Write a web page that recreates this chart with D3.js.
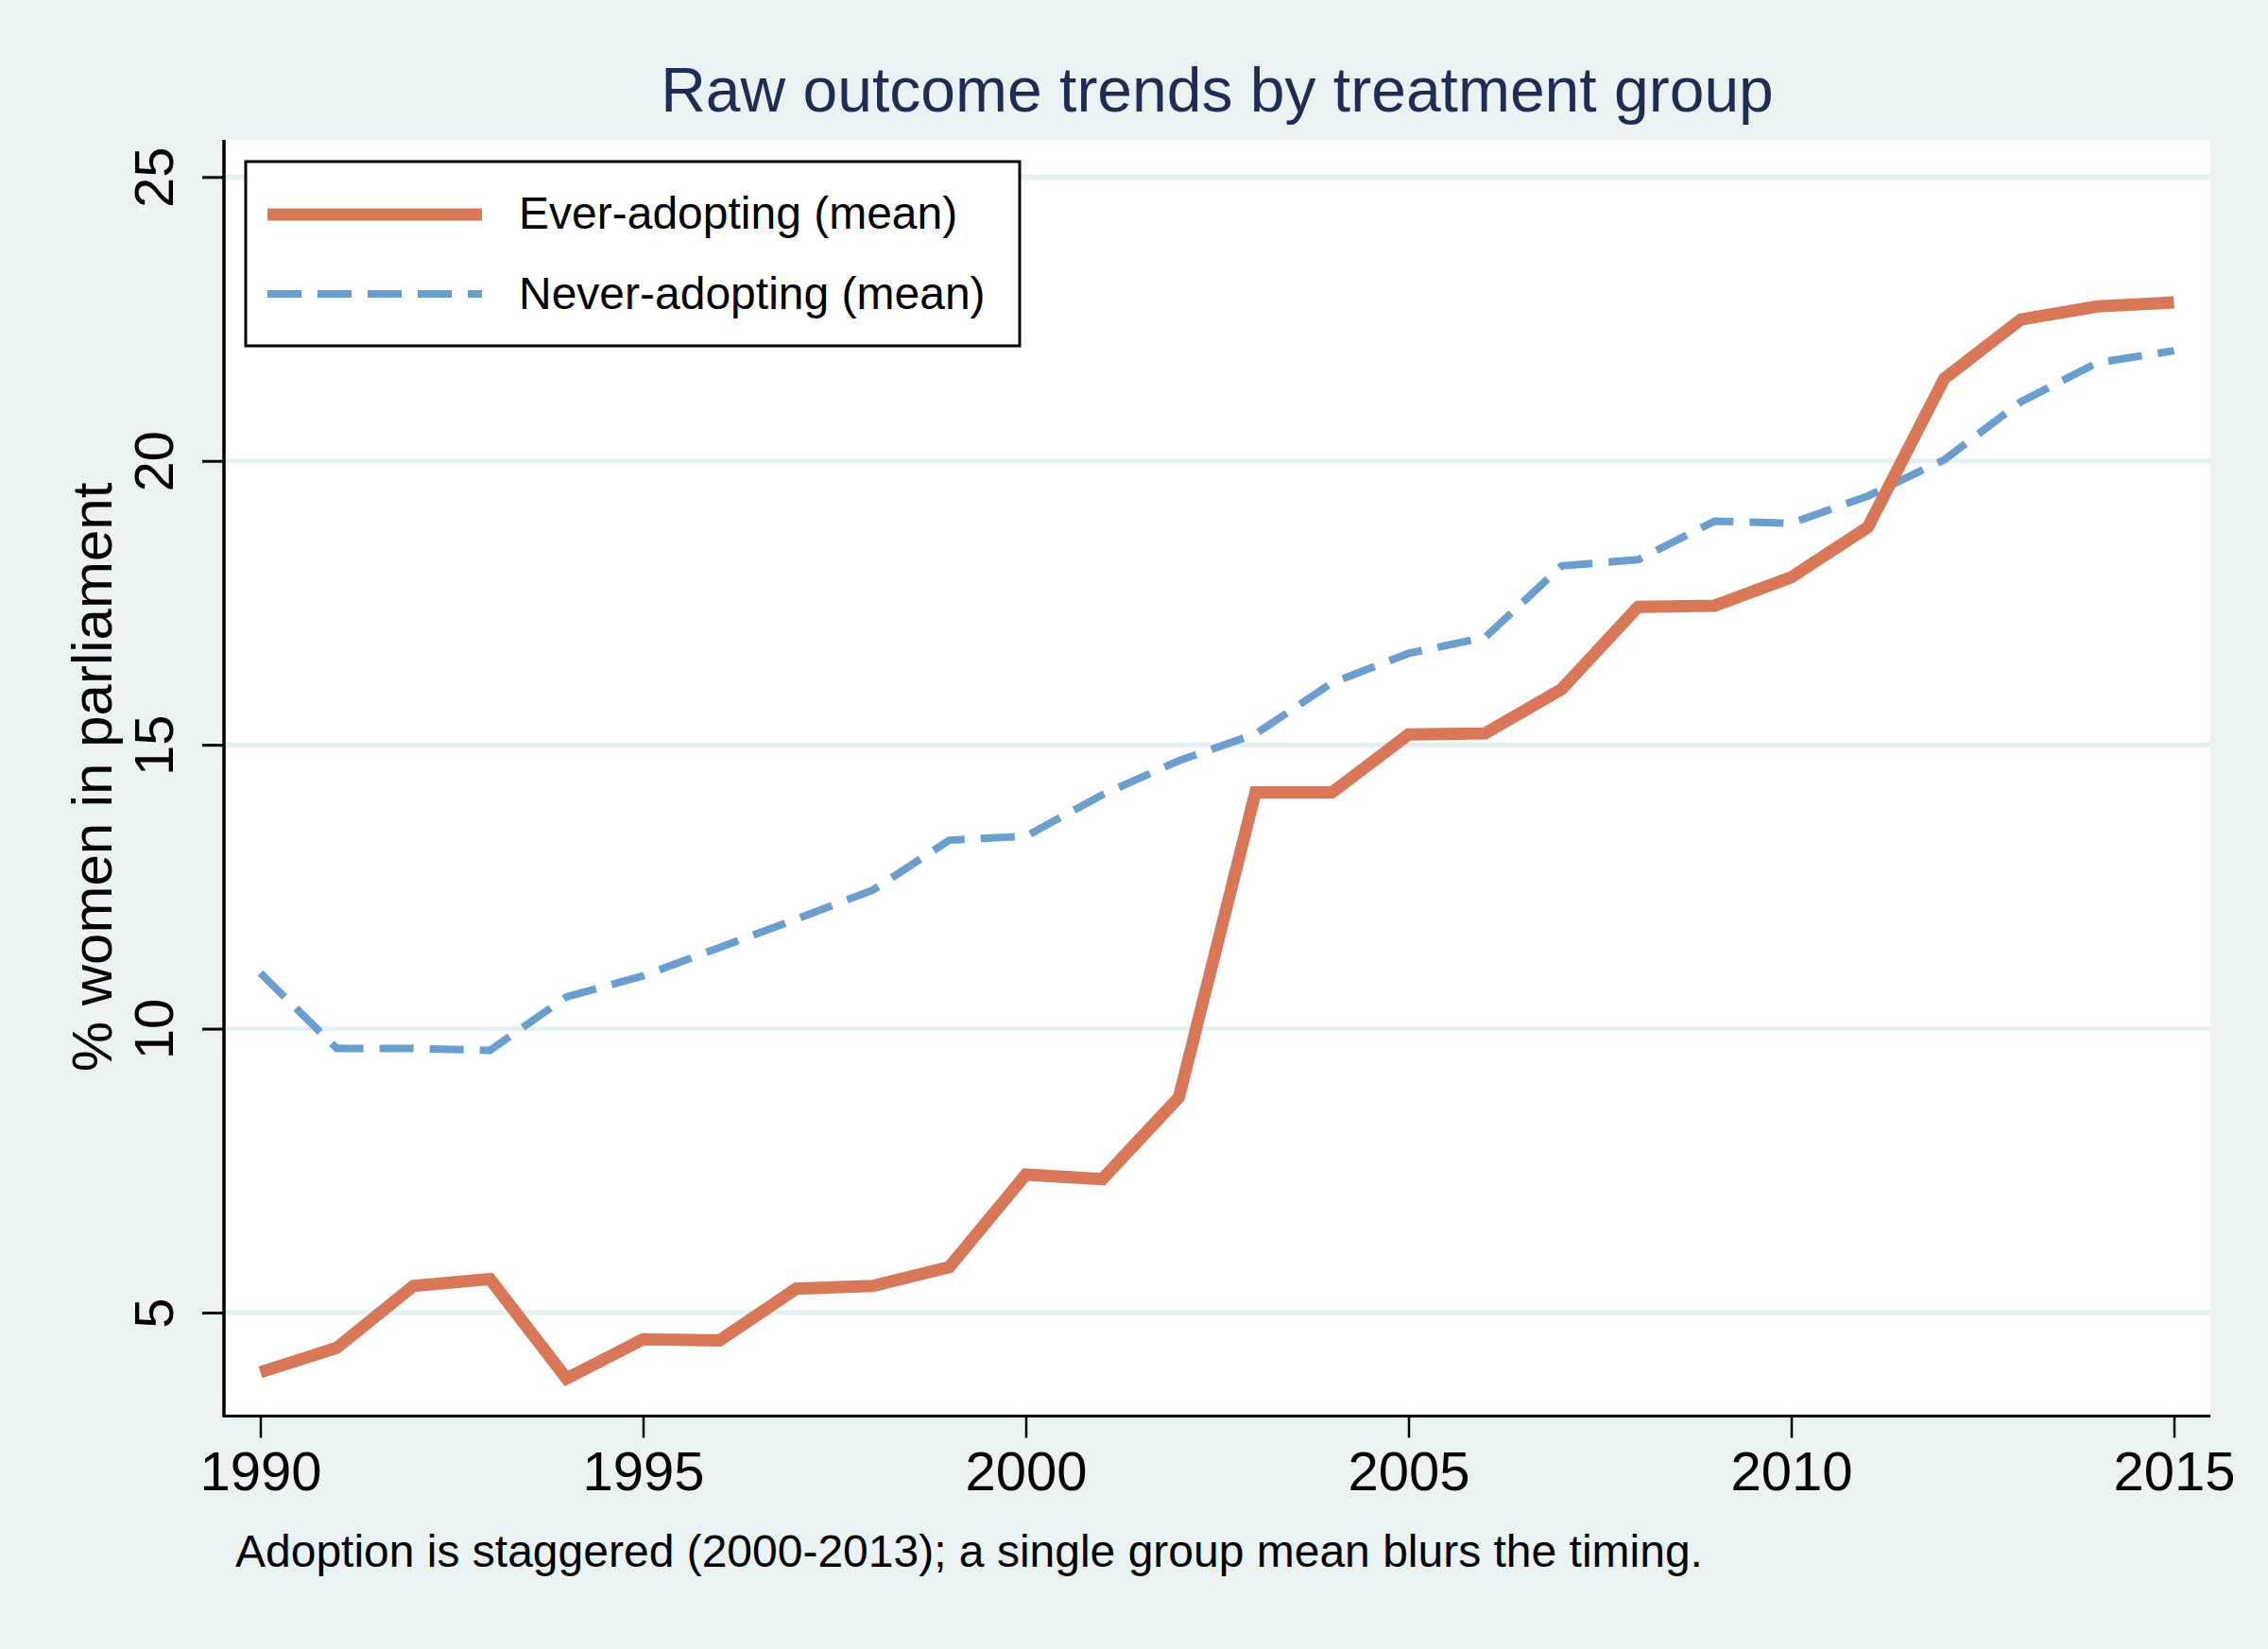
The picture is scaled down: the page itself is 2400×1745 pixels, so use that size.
<!DOCTYPE html>
<html>
<head>
<meta charset="utf-8">
<script src="https://cdn.jsdelivr.net/npm/d3@7"></script>
<style>
  html, body { margin: 0; padding: 0; background: #eaf2f3; }
  svg { display: block; font-family: "Liberation Sans", Arial, Helvetica, sans-serif; }
</style>
</head>
<body>
<svg id="chart" width="2400" height="1745"></svg>
<script>
// data
const years = d3.range(1990, 2016);
const everAdopting = [3.95, 4.38, 5.47, 5.59, 3.84, 4.53, 4.51, 5.42, 5.47, 5.80,
  7.43, 7.35, 8.79, 14.16, 14.16, 15.18, 15.20, 15.98, 17.43, 17.45,
  17.95, 18.83, 21.45, 22.49, 22.72, 22.79];
const neverAdopting = [10.98, 9.65, 9.65, 9.62, 10.56, 10.93, 11.43, 11.93, 12.44, 13.32,
  13.39, 14.12, 14.72, 15.19, 16.09, 16.61, 16.89, 18.15, 18.26, 18.94,
  18.90, 19.38, 20.02, 21.04, 21.73, 21.94];
const xTicks = [1990, 1995, 2000, 2005, 2010, 2015];
const yTicks = [5, 10, 15, 20, 25];
const seriesNames = ["Ever-adopting (mean)", "Never-adopting (mean)"];

const svg = d3.select("#chart");
const W = 2400, H = 1745;
const plot = {left: 237, right: 2339, top: 148, bottom: 1497};

const x = d3.scaleLinear().domain([1990, 2015]).range([275.5, 2300.5]);
const y = d3.scaleLinear().domain([5, 25]).range([1389, 187.3]);

svg.append("rect").attr("width", W).attr("height", H).attr("fill", "#eaf2f3");
svg.append("rect")
  .attr("x", plot.left).attr("y", plot.top)
  .attr("width", plot.right - plot.left).attr("height", plot.bottom - plot.top)
  .attr("fill", "#ffffff");

// grid
svg.append("g").selectAll("line").data(yTicks).join("line")
  .attr("x1", plot.left).attr("x2", plot.right)
  .attr("y1", d => y(d)).attr("y2", d => y(d))
  .attr("stroke", "#e6eff1").attr("stroke-width", 5);

// title
svg.append("text")
  .attr("x", 1288).attr("y", 118)
  .attr("text-anchor", "middle")
  .attr("font-size", 66).attr("fill", "#1f2d55")
  .text("Raw outcome trends by treatment group");

// lines
const line = d3.line().x((d, i) => x(years[i])).y(d => y(d));
svg.append("path").datum(neverAdopting)
  .attr("d", line).attr("fill", "none")
  .attr("stroke", "#6a9ecf").attr("stroke-width", 8)
  .attr("stroke-dasharray", "36,17");
svg.append("path").datum(everAdopting)
  .attr("d", line).attr("fill", "none")
  .attr("stroke", "#d97858").attr("stroke-width", 13)
  .attr("stroke-linejoin", "miter");

// axes
const yAxis = svg.append("g").attr("transform", `translate(${plot.left},0)`)
  .call(d3.axisLeft(y).tickValues(yTicks).tickSize(23).tickPadding(0).tickFormat(d3.format("d")));
yAxis.select(".domain").attr("d", `M0,${plot.top}V${plot.bottom + 1.5}`).attr("stroke", "#000").attr("stroke-width", 3.5);
yAxis.selectAll(".tick line").attr("stroke", "#000").attr("stroke-width", 3);
yAxis.selectAll(".tick text")
  .attr("x", null).attr("dy", null)
  .attr("transform", "translate(-54,0) rotate(-90)")
  .attr("text-anchor", "middle")
  .attr("font-size", 58).attr("fill", "#000");

const xAxis = svg.append("g").attr("transform", `translate(0,${plot.bottom + 1.5})`)
  .call(d3.axisBottom(x).tickValues(xTicks).tickSize(23).tickPadding(0).tickFormat(d3.format("d")));
xAxis.select(".domain").attr("d", `M${plot.left - 1.5},0H${plot.right}`).attr("stroke", "#000").attr("stroke-width", 3);
xAxis.selectAll(".tick line").attr("stroke", "#000").attr("stroke-width", 2.5);
xAxis.selectAll(".tick text")
  .attr("y", 78).attr("dy", null)
  .attr("font-size", 58).attr("fill", "#000");
svg.selectAll(".tick text").attr("font-family", "Liberation Sans, Arial, sans-serif");

// y title
svg.append("text")
  .attr("transform", `translate(118,${(plot.top + plot.bottom) / 2}) rotate(-90)`)
  .attr("text-anchor", "middle")
  .attr("font-size", 60).attr("fill", "#000")
  .text("% women in parliament");

// legend
const lg = svg.append("g");
lg.append("rect")
  .attr("x", 260).attr("y", 171).attr("width", 819).attr("height", 195)
  .attr("fill", "#fff").attr("stroke", "#000").attr("stroke-width", 3);
const legendItems = [
  {name: seriesNames[0], color: "#d97858", w: 13, dash: null, ly: 227, ty: 242},
  {name: seriesNames[1], color: "#6a9ecf", w: 8, dash: "36,17", ly: 311, ty: 327}
];
legendItems.forEach(it => {
  lg.append("line")
    .attr("x1", 283).attr("x2", 510).attr("y1", it.ly).attr("y2", it.ly)
    .attr("stroke", it.color).attr("stroke-width", it.w)
    .attr("stroke-dasharray", it.dash);
  lg.append("text")
    .attr("x", 549).attr("y", it.ty)
    .attr("font-size", 48).attr("fill", "#000")
    .text(it.name);
});

// note
svg.append("text")
  .attr("x", 249).attr("y", 1658)
  .attr("font-size", 48).attr("fill", "#000")
  .text("Adoption is staggered (2000-2013); a single group mean blurs the timing.");
</script>
</body>
</html>
